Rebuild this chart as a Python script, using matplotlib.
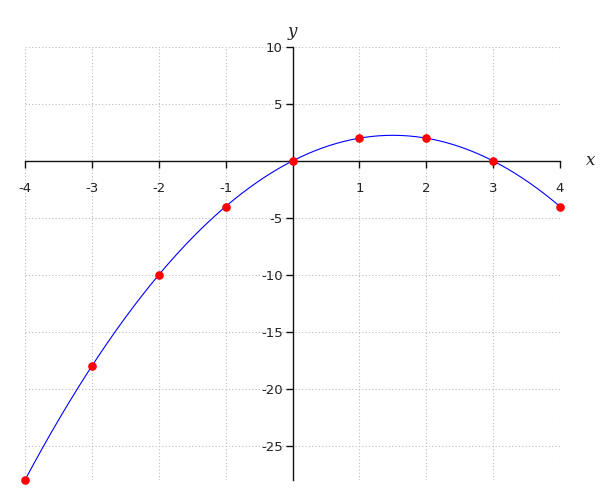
import numpy as np
import matplotlib.pyplot as plt

# Data points
x_points = [-4, -3, -2, -1, 0, 1, 2, 3, 4]
y_points = [-28, -18, -10, -4, 0, 2, 2, 0, -4]

x_ticks = [-4, -3, -2, -1, 1, 2, 3, 4]
y_ticks = [-25, -20, -15, -10, -5, 5, 10]

plt.rcParams['axes.unicode_minus'] = False

fig = plt.figure(figsize=(6, 5), dpi=100)
ax = fig.add_axes([25 / 600, 1 - 480 / 500, 535 / 600, 433 / 500])

# Smooth curve through the points (quadratic fit of the data)
coef = np.polyfit(x_points, y_points, 2)
xs = np.linspace(min(x_points), max(x_points), 300)
ax.plot(xs, np.polyval(coef, xs), color="blue", lw=0.8, zorder=3)
ax.plot(x_points, y_points, "o", color="red", ms=5.2, mec="red", zorder=4, clip_on=False)

ax.set_xlim(-4, 4)
ax.set_ylim(-28, 10)

# Centered axes
for side in ("top", "right"):
    ax.spines[side].set_visible(False)
ax.spines["left"].set_position(("data", 0))
ax.spines["bottom"].set_position(("data", 0))
for side in ("left", "bottom"):
    ax.spines[side].set_color("#111111")
    ax.spines[side].set_linewidth(1.0)

ax.set_xticks(x_ticks)
ax.set_yticks(y_ticks)
ax.tick_params(axis="x", direction="out", length=5, width=1, pad=10.5, labelsize=9.5,
               colors="#111111", labelcolor="#222222")
ax.tick_params(axis="y", direction="out", length=5, width=1, pad=2, labelsize=9.5,
               colors="#111111", labelcolor="#222222")

# Dotted grid
for xv in range(-4, 5):
    if xv != 0:
        ax.axvline(xv, color="#bbbbbb", lw=0.8, ls=(0, (1, 2)), zorder=0)
for yv in [-25, -20, -15, -10, -5, 5, 10]:
    ax.axhline(yv, color="#bbbbbb", lw=0.8, ls=(0, (1, 2)), zorder=0)

# Axis labels
ax.annotate("x", xy=(1, 0), xycoords=("axes fraction", "data"), xytext=(22, 0),
            textcoords="offset points", ha="center", va="center",
            fontsize=12, family="DejaVu Serif", style="italic", color="#222222")
ax.annotate("y", xy=(0, 1), xycoords=("data", "axes fraction"), xytext=(0, 11),
            textcoords="offset points", ha="center", va="center",
            fontsize=12, family="DejaVu Serif", style="italic", color="#222222")

fig.savefig("out.png", dpi=100)
